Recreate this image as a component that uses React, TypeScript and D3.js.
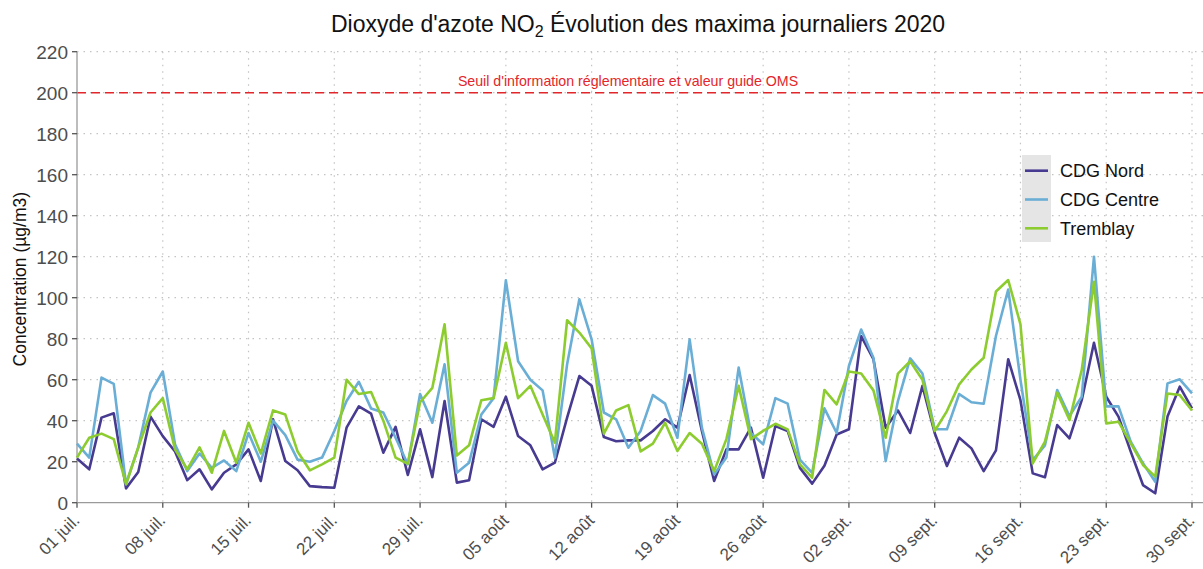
import React from "react";
import * as d3 from "d3";

// valeurs (maxima journaliers, 01/07 -> 30/09/2020)
const cdgNord = [
  21.6, 16.3, 41.5, 43.6, 7, 15, 42, 32.5, 25, 11, 16.3, 6.5, 14.6, 18.7, 26, 10.6, 40.7, 20.3, 15.8, 8.1,
  7.6, 7.3, 36.6, 47, 43.4, 24.4, 37, 13.5, 35.8, 12.5, 49.6, 9.8, 11, 40.7, 37, 51.7, 32.5, 28, 16.3, 19.5,
  41.5, 61.8, 57, 32, 30, 30.4, 30.4, 35, 40.7, 36.6, 62.3, 35, 10.6, 26, 26, 36.6, 12.2, 37.4, 35, 17,
  9.3, 18, 33.3, 35.8, 81.3, 70, 36.6, 45, 34, 57, 34, 17.9, 31.7, 26.5, 15.4, 25.5, 70, 50, 14.3, 12.4,
  37.9, 31.4, 50, 78, 51.7, 42, 24.9, 8.6, 4.6, 42, 56.6, 46,
];
const cdgCentre = [
  28.8, 22, 61, 58, 9, 27, 53.7, 64, 28.5, 15.4, 24, 17, 20.6, 15.4, 34, 20, 40, 33, 21, 20,
  22, 35, 49.6, 59, 46, 44, 31.7, 18.7, 53, 39, 67.5, 14.6, 19.5, 43, 51, 108.5, 69, 60, 54.8, 22,
  67.5, 99.2, 79.7, 44, 40.7, 26.8, 35, 52.5, 48.3, 31.7, 79.7, 36.6, 13.8, 22, 65.9, 34, 28.5, 51, 48.3, 21,
  14.6, 46, 34, 66.7, 84.5, 70.7, 20.3, 49.6, 70.4, 63, 35.8, 35.8, 53, 49, 48.3, 81.3, 104, 60, 20.8, 28,
  55, 42.3, 51.7, 120, 47, 47, 29.8, 19.2, 10.2, 58.2, 60.2, 53.3,
];
const tremblay = [
  22, 31.7, 33.7, 31, 9, 27, 44, 51, 26, 16.3, 27, 14.6, 35, 19.5, 39, 24, 45, 43, 25, 15.8,
  18.7, 22, 60, 53, 54, 40, 22, 19, 49, 56, 87, 23, 28, 50, 51, 78, 51, 57, 43, 29.3,
  89, 83, 75.3, 33.7, 45, 47.6, 25, 28.8, 39, 25.2, 34, 28.8, 15.4, 31, 57, 31, 35, 38.5, 35.8, 18.7,
  12.2, 55, 48, 64, 63, 54.8, 31.7, 63, 69, 60, 35, 44.7, 57.7, 65, 70.7, 103, 108.6, 87, 19.2, 29.8,
  53.7, 40.3, 64.7, 107.8, 38.7, 39.5, 29, 18.4, 12.7, 53.3, 52.5, 45,
];

const seriesNames = ["CDG Nord", "CDG Centre", "Tremblay"];
const seriesColors = ["#473a91", "#6aaed6", "#8dcc2f"];
const xTickLabels = [
  "01 juil.", "08 juil.", "15 juil.", "22 juil.", "29 juil.", "05 août", "12 août",
  "19 août", "26 août", "02 sept.", "09 sept.", "16 sept.", "23 sept.", "30 sept.",
];
const yTicks = [0, 20, 40, 60, 80, 100, 120, 140, 160, 180, 200, 220];
const seuil = 200;

const W = 1203;
const H = 569;
const left = 77;
const right = 1192;
const top = 51.7;
const bottom = 502.7;
const font = "'Liberation Sans', Arial, sans-serif";

export default function App() {
  const start = new Date(2020, 6, 1);
  const end = new Date(2020, 8, 30);
  const dates = d3.timeDay.range(start, d3.timeDay.offset(end, 1));

  const x = d3.scaleTime().domain([start, end]).range([left, right]);
  const y = d3.scaleLinear().domain([0, 220]).range([bottom, top]);

  const tickDates = xTickLabels.map((_, i) => d3.timeDay.offset(start, 7 * i));
  const allSeries = [cdgNord, cdgCentre, tremblay];

  const line = d3
    .line<number>()
    .x((_, i) => x(dates[i]))
    .y((d) => y(d));

  return (
    <svg width={W} height={H} style={{ position: "absolute", left: 0, top: 0 }} fontFamily={font}>
      <rect width={W} height={H} fill="#fff" />

      {/* grille pointillée */}
      {yTicks.slice(1).map((t) => (
        <line key={"gy" + t} x1={left} x2={W} y1={y(t)} y2={y(t)} stroke="#c4c4c4" strokeWidth={1.2} strokeDasharray="1.5,5" />
      ))}
      {tickDates.slice(1).map((d, i) => (
        <line key={"gx" + i} x1={x(d)} x2={x(d)} y1={top} y2={bottom} stroke="#c4c4c4" strokeWidth={1.2} strokeDasharray="1.5,5" />
      ))}

      {/* seuil */}
      <line x1={left} x2={W} y1={y(seuil)} y2={y(seuil)} stroke="#e3262b" strokeWidth={1.6} strokeDasharray="9,5" />
      <text x={628} y={y(seuil) - 7} textAnchor="middle" fontSize={14.2} fill="#e3262b">
        Seuil d'information réglementaire et valeur guide OMS
      </text>

      {/* axes */}
      <line x1={left} x2={left} y1={top} y2={bottom} stroke="#9a9a9a" strokeWidth={1.3} />
      <line x1={left} x2={W} y1={bottom} y2={bottom} stroke="#9a9a9a" strokeWidth={1.3} />
      {yTicks.map((t) => (
        <g key={"ty" + t}>
          <line x1={left - 5} x2={left} y1={y(t)} y2={y(t)} stroke="#555" strokeWidth={1.3} />
          <text x={left - 9} y={y(t)} dy="0.36em" textAnchor="end" fontSize={19} fill="#4d4d4d">
            {t}
          </text>
        </g>
      ))}
      {tickDates.map((d, i) => (
        <g key={"tx" + i}>
          <line x1={x(d)} x2={x(d)} y1={bottom} y2={bottom + 5} stroke="#555" strokeWidth={1.3} />
          <text
            transform={`translate(${x(d) - 5},${bottom + 10}) rotate(-45)`}
            dy="0.72em"
            textAnchor="end"
            fontSize={17}
            fill="#4d4d4d"
          >
            {xTickLabels[i]}
          </text>
        </g>
      ))}

      {/* séries */}
      {allSeries.map((s, k) => (
        <path key={seriesNames[k]} d={line(s) || ""} fill="none" stroke={seriesColors[k]} strokeWidth={2.6} strokeLinejoin="round" />
      ))}

      {/* titres */}
      <text x={638} y={32} textAnchor="middle" fontSize={23} fill="#111">
        Dioxyde d'azote NO
        <tspan fontSize={16} dy={5}>2</tspan>
        <tspan dy={-5}> Évolution des maxima journaliers 2020</tspan>
      </text>
      <text transform={`translate(26,${(top + bottom) / 2 + 2}) rotate(-90)`} textAnchor="middle" fontSize={17.5} fill="#111">
        Concentration (µg/m3)
      </text>

      {/* légende */}
      <rect x={1022} y={155} width={29} height={87} fill="#e5e5e5" />
      {seriesNames.map((n, i) => (
        <g key={"lg" + n}>
          <line x1={1025} x2={1048} y1={170.7 + i * 28.8} y2={170.7 + i * 28.8} stroke={seriesColors[i]} strokeWidth={2.6} />
          <text x={1060} y={170.7 + i * 28.8} dy="0.36em" fontSize={18} fill="#111">
            {n}
          </text>
        </g>
      ))}
    </svg>
  );
}
